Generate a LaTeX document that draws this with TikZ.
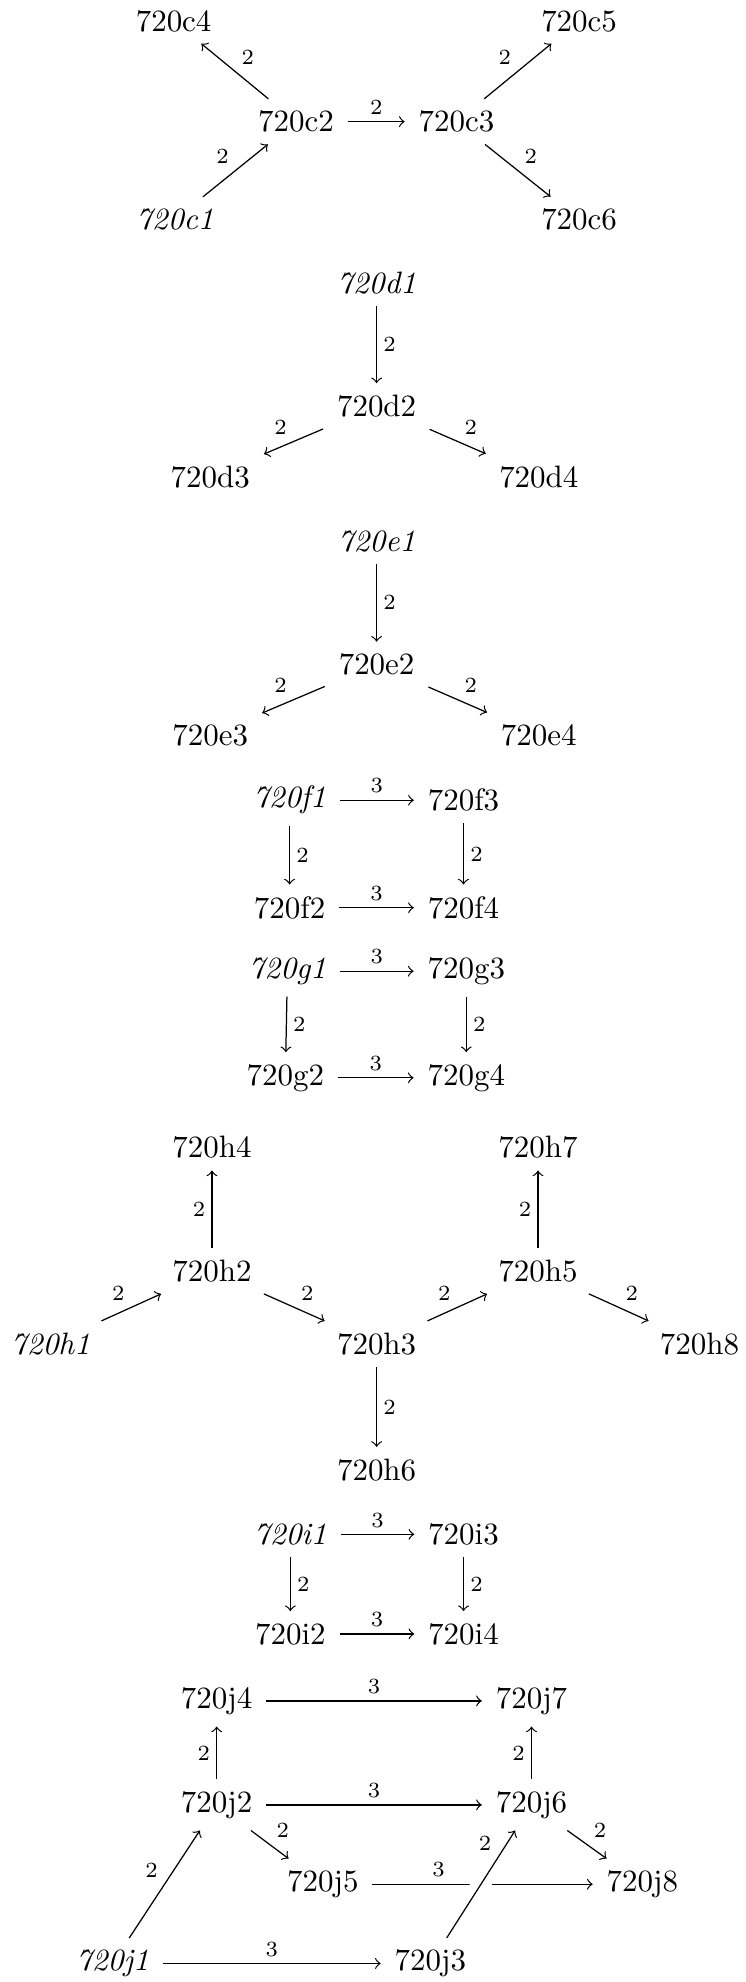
\documentclass[tikz,border=0pt]{standalone}
\usepackage{tikz}
\usetikzlibrary{positioning}

\begin{document}
\begin{tikzpicture}[x=1.85cm,y=1cm, >=to]
  \tikzstyle{cell}=[inner xsep=1ex, inner ysep=0.85ex]
  \tikzstyle{map}=[->]
  \tikzstyle{lbl}=[font=\scriptsize, inner sep=2pt]
  \tikzstyle{overcross}=[preaction={draw=white, -, line width=6pt}]
  \useasboundingbox (-2.310,0) rectangle (2.264,-22.49);
  % c
  \node[cell] (c4) at (-1.245,-0.237) {720c4};
  \node[cell] (c5) at (1.242,-0.237) {720c5};
  \node[cell] (c2) at (-0.494,-1.38) {720c2};
  \node[cell] (c3) at (0.49,-1.38) {720c3};
  \node[cell] (c1) at (-1.237,-2.49) {\textit{720c1}};
  \node[cell] (c6) at (1.242,-2.49) {720c6};
  \draw[map] (c1) -- node[lbl, above left] {2} (c2);
  \draw[map] (c2) -- node[lbl, above right] {2} (c4);
  \draw[map] (c2) -- node[lbl, above] {2} (c3);
  \draw[map] (c3) -- node[lbl, above left] {2} (c5);
  \draw[map] (c3) -- node[lbl, above right] {2} (c6);
  % d
  \node[cell] (d1) at (0,-3.21) {\textit{720d1}};
  \node[cell] (d2) at (0,-4.61) {720d2};
  \node[cell] (d3) at (-1.02,-5.41) {720d3};
  \node[cell] (d4) at (0.995,-5.41) {720d4};
  \draw[map] (d1) -- node[lbl, right] {2} (d2);
  \draw[map] (d2) -- node[lbl, above left] {2} (d3);
  \draw[map] (d2) -- node[lbl, above right] {2} (d4);
  % e
  \node[cell] (e1) at (0,-6.14) {\textit{720e1}};
  \node[cell] (e2) at (0,-7.54) {720e2};
  \node[cell] (e3) at (-1.02,-8.34) {720e3};
  \node[cell] (e4) at (0.995,-8.34) {720e4};
  \draw[map] (e1) -- node[lbl, right] {2} (e2);
  \draw[map] (e2) -- node[lbl, above left] {2} (e3);
  \draw[map] (e2) -- node[lbl, above right] {2} (e4);
  % f
  \node[cell] (f1) at (-0.534,-9.08) {\textit{720f1}};
  \node[cell] (f3) at (0.533,-9.08) {720f3};
  \node[cell] (f2) at (-0.534,-10.30) {720f2};
  \node[cell] (f4) at (0.533,-10.30) {720f4};
  \draw[map] (f1) -- node[lbl, above] {3} (f3);
  \draw[map] (f1) -- node[lbl, right] {2} (f2);
  \draw[map] (f3) -- node[lbl, right] {2} (f4);
  \draw[map] (f2) -- node[lbl, above] {3} (f4);
  % g
  \node[cell] (g1) at (-0.547,-11.02) {\textit{720g1}};
  \node[cell] (g3) at (0.55,-11.02) {720g3};
  \node[cell] (g2) at (-0.56,-12.23) {720g2};
  \node[cell] (g4) at (0.55,-12.23) {720g4};
  \draw[map] (g1) -- node[lbl, above] {3} (g3);
  \draw[map] (g1) -- node[lbl, right] {2} (g2);
  \draw[map] (g3) -- node[lbl, right] {2} (g4);
  \draw[map] (g2) -- node[lbl, above] {3} (g4);
  % h
  \node[cell] (h4) at (-1.01,-13.02) {720h4};
  \node[cell] (h7) at (0.99,-13.02) {720h7};
  \node[cell] (h2) at (-1.01,-14.42) {720h2};
  \node[cell] (h5) at (0.99,-14.42) {720h5};
  \node[cell] (h1) at (-2,-15.25) {\textit{720h1}};
  \node[cell] (h3) at (0,-15.25) {720h3};
  \node[cell] (h8) at (1.98,-15.25) {720h8};
  \node[cell] (h6) at (0,-16.68) {720h6};
  \draw[map] (h1) -- node[lbl, above left] {2} (h2);
  \draw[map] (h2) -- node[lbl, left] {2} (h4);
  \draw[map] (h2) -- node[lbl, above right] {2} (h3);
  \draw[map] (h3) -- node[lbl, above left] {2} (h5);
  \draw[map] (h5) -- node[lbl, left] {2} (h7);
  \draw[map] (h5) -- node[lbl, above right] {2} (h8);
  \draw[map] (h3) -- node[lbl, right] {2} (h6);
  % i
  \node[cell] (i1) at (-0.529,-17.41) {\textit{720i1}};
  \node[cell] (i3) at (0.533,-17.41) {720i3};
  \node[cell] (i2) at (-0.529,-18.54) {720i2};
  \node[cell] (i4) at (0.533,-18.54) {720i4};
  \draw[map] (i1) -- node[lbl, above] {3} (i3);
  \draw[map] (i1) -- node[lbl, right] {2} (i2);
  \draw[map] (i3) -- node[lbl, right] {2} (i4);
  \draw[map] (i2) -- node[lbl, above] {3} (i4);
  % j
  \node[cell] (j4) at (-0.981,-19.30) {720j4};
  \node[cell] (j7) at (0.95,-19.30) {720j7};
  \node[cell] (j2) at (-0.981,-20.48) {720j2};
  \node[cell] (j6) at (0.95,-20.48) {720j6};
  \node[cell] (j5) at (-0.33,-21.38) {720j5};
  \node[cell] (j8) at (1.63,-21.38) {720j8};
  \node[cell] (j1) at (-1.62,-22.28) {\textit{720j1}};
  \node[cell] (j3) at (0.33,-22.28) {720j3};
  \draw[map] (j4) -- node[lbl, above] {3} (j7);
  \draw[map] (j2) -- node[lbl, left] {2} (j4);
  \draw[map] (j6) -- node[lbl, left] {2} (j7);
  \draw[map] (j2) -- node[lbl, above] {3} (j6);
  \draw[map] (j2) -- node[lbl, above right] {2} (j5);
  \draw[map] (j6) -- node[lbl, above right] {2} (j8);
  \draw[map] (j1) -- node[lbl, above left] {2} (j2);
  \draw[map] (j5) -- node[lbl, above, pos=0.3] {3} (j8);
  \draw[map, overcross] (j3) -- node[lbl, above left, pos=0.75] {2} (j6);
  \draw[map] (j1) -- node[lbl, above] {3} (j3);
\end{tikzpicture}
\end{document}
